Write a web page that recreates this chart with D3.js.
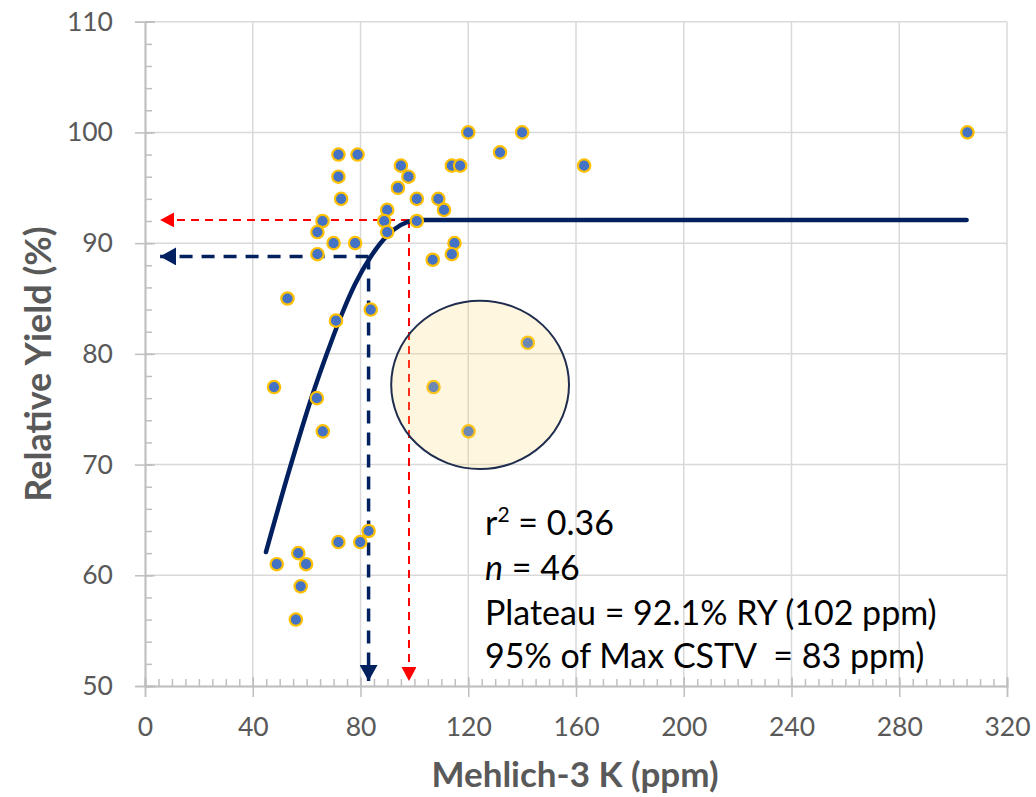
<!DOCTYPE html>
<html>
<head>
<meta charset="utf-8">
<script src="https://cdn.jsdelivr.net/npm/d3@7"></script>
<style>
	body { margin: 0; background: #fff; }
	text { font-family: Lato, "Open Sans", sans-serif; }
</style>
</head>
<body>
<div id="chart"></div>
<script>
// soil test K vs relative yield

var kPpm = [305.3, 120, 140, 131.8, 163, 71.8, 78.9, 95, 97.8, 93.9, 71.8, 72.8, 100.9, 108.9, 111,
	89.9, 88.8, 89.9, 100.9, 65.9, 64, 70, 78, 64, 114.9, 113.9, 106.8, 113.9, 117,
	52.9, 70.9, 83.8, 47.9, 63.8, 66, 107.1, 142.1, 120.1,
	71.8, 79.9, 83, 48.9, 56.9, 59.8, 57.8, 56];
var relYield = [100, 100, 100, 98.2, 97, 98, 98, 97, 96, 95, 96, 94, 94, 94, 93,
	93, 92, 91, 92, 92, 91, 90, 90, 89, 90, 89, 88.5, 97, 97,
	85, 83, 84, 77, 76, 73, 77, 81, 73,
	63, 63, 64, 61, 62, 61, 59, 56];

// fitted quadratic-plateau line
var curveK = [44.9, 53.2, 61.9, 67.5, 73.1, 78, 83.6, 90, 95, 100, 102, 305];
var curveRY = [62.1, 69.2, 76.1, 80.0, 83.6, 86.3, 88.7, 90.7, 91.65, 92.07, 92.1, 92.1];

var xTicks = [0, 40, 80, 120, 160, 200, 240, 280, 320];
var yTicks = [50, 60, 70, 80, 90, 100, 110];

// guide arrows
var cstvK = 83, cstvRY = 88.8;
var plateauK = 98, plateauRY = 92.1;
var arrowTipK = 5.6, arrowTipRY = 50.45;

// highlighted group (ellipse centre and radii in data units)
var ringK = 124.4, ringRY = 77.2, ringRK = 33, ringRRY = 7.6;

var statLines = ["r", "n = 46", "Plateau = 92.1% RY (102 ppm)", "95% of Max CSTV\u00a0 = 83 ppm)"];

drawChart();

function drawChart() {
	var width = 1036,
		height = 797,
		left = 145,
		right = 1007,
		top = 21.7,
		bottom = 686;

	var x = d3.scaleLinear().domain([0, 320]).range([left, right]);
	var y = d3.scaleLinear().domain([50, 110]).range([bottom, top]);

	var svg = d3.select("#chart")
		.append("svg")
		.attr("width", width)
		.attr("height", height);

	var defs = svg.append("defs");
	function arrowMarker(id, color, w, l) {
		defs.append("marker")
			.attr("id", id)
			.attr("markerUnits", "userSpaceOnUse")
			.attr("viewBox", "0 0 " + l + " " + w)
			.attr("refX", l)
			.attr("refY", w / 2)
			.attr("markerWidth", l)
			.attr("markerHeight", w)
			.attr("orient", "auto")
			.append("path")
			.attr("d", "M0,0L" + l + "," + (w / 2) + "L0," + w + "Z")
			.attr("fill", color);
	}
	arrowMarker("arrowBlue", "#002060", 18, 16);
	arrowMarker("arrowRed", "#ff0000", 15, 14);

	// gridlines
	svg.append("g").selectAll("line")
		.data(xTicks.slice(1))
		.enter().append("line")
		.attr("x1", function(d) { return x(d); })
		.attr("x2", function(d) { return x(d); })
		.attr("y1", top)
		.attr("y2", bottom)
		.attr("stroke", "#d9d9d9")
		.attr("stroke-width", 1.5);
	svg.append("g").selectAll("line")
		.data(yTicks.slice(1))
		.enter().append("line")
		.attr("x1", left)
		.attr("x2", right)
		.attr("y1", function(d) { return y(d); })
		.attr("y2", function(d) { return y(d); })
		.attr("stroke", "#d9d9d9")
		.attr("stroke-width", 1.5);

	// minor ticks
	var xMinor = d3.range(0, 321, 5), yMinor = d3.range(50, 111, 2);
	svg.append("g")
		.attr("transform", "translate(0," + bottom + ")")
		.call(d3.axisTop(x).tickValues(xMinor).tickSize(7).tickFormat(""));
	svg.append("g")
		.attr("transform", "translate(" + left + ",0)")
		.call(d3.axisRight(y).tickValues(yMinor).tickSize(7).tickFormat(""));

	// major ticks + labels
	svg.append("g")
		.attr("transform", "translate(0," + bottom + ")")
		.call(d3.axisBottom(x).tickValues(xTicks).tickSize(11).tickPadding(20));
	svg.append("g")
		.attr("transform", "translate(0," + bottom + ")")
		.call(d3.axisTop(x).tickValues(xTicks).tickSize(9).tickFormat(""));
	svg.append("g")
		.attr("transform", "translate(" + left + ",0)")
		.call(d3.axisLeft(y).tickValues(yTicks).tickSize(10).tickPadding(22));
	svg.append("g")
		.attr("transform", "translate(" + left + ",0)")
		.call(d3.axisRight(y).tickValues(yTicks).tickSize(10).tickFormat(""));

	svg.selectAll(".domain").attr("stroke", "#bfbfbf").attr("stroke-width", 1.5);
	svg.selectAll(".tick line").attr("stroke", "#bfbfbf").attr("stroke-width", 1.5);
	svg.selectAll(".tick text")
		.attr("fill", "#595959")
		.attr("font-size", "26.5px")
		.attr("font-family", "Lato, 'Open Sans', sans-serif");

	// axis titles
	svg.append("text")
		.attr("x", 575)
		.attr("y", 787)
		.attr("text-anchor", "middle")
		.attr("font-size", "35px")
		.attr("font-weight", "bold")
		.attr("fill", "#595959")
		.text("Mehlich-3 K (ppm)");
	svg.append("text")
		.attr("transform", "translate(51,364) rotate(-90)")
		.attr("text-anchor", "middle")
		.attr("font-size", "36px")
		.attr("font-weight", "bold")
		.attr("fill", "#595959")
		.text("Relative Yield (%)");

	// guide arrows
	var guides = svg.append("g").attr("fill", "none");
	guides.append("line")
		.attr("x1", x(cstvK)).attr("y1", y(cstvRY))
		.attr("x2", x(arrowTipK)).attr("y2", y(cstvRY))
		.attr("stroke", "#002060").attr("stroke-width", 3.5)
		.attr("stroke-dasharray", "13,9")
		.attr("marker-end", "url(#arrowBlue)");
	guides.append("line")
		.attr("x1", x(cstvK)).attr("y1", y(cstvRY))
		.attr("x2", x(cstvK)).attr("y2", y(arrowTipRY))
		.attr("stroke", "#002060").attr("stroke-width", 3.5)
		.attr("stroke-dasharray", "13,9")
		.attr("marker-end", "url(#arrowBlue)");
	guides.append("line")
		.attr("x1", x(plateauK)).attr("y1", y(plateauRY))
		.attr("x2", x(arrowTipK)).attr("y2", y(plateauRY))
		.attr("stroke", "#ff0000").attr("stroke-width", 2)
		.attr("stroke-dasharray", "8,6")
		.attr("marker-end", "url(#arrowRed)");
	guides.append("line")
		.attr("x1", x(plateauK)).attr("y1", y(plateauRY))
		.attr("x2", x(plateauK)).attr("y2", y(arrowTipRY))
		.attr("stroke", "#ff0000").attr("stroke-width", 2)
		.attr("stroke-dasharray", "8,6")
		.attr("marker-end", "url(#arrowRed)");

	// fitted curve
	var line = d3.line()
		.x(function(d) { return x(d[0]); })
		.y(function(d) { return y(d[1]); })
		.curve(d3.curveMonotoneX);
	svg.append("path")
		.datum(d3.zip(curveK, curveRY))
		.attr("d", line)
		.attr("fill", "none")
		.attr("stroke", "#002060")
		.attr("stroke-width", 4.5)
		.attr("stroke-linecap", "round");

	// points
	svg.append("g").selectAll("circle")
		.data(d3.zip(kPpm, relYield))
		.enter().append("circle")
		.attr("cx", function(d) { return x(d[0]); })
		.attr("cy", function(d) { return y(d[1]); })
		.attr("r", 6.2)
		.attr("fill", "#4472c4")
		.attr("stroke", "#ffc000")
		.attr("stroke-width", 2.2);

	// highlight ring
	svg.append("ellipse")
		.attr("cx", x(ringK))
		.attr("cy", y(ringRY))
		.attr("rx", x(ringK + ringRK) - x(ringK))
		.attr("ry", y(ringRY - ringRRY) - y(ringRY))
		.attr("fill", "#ffd672")
		.attr("fill-opacity", 0.22)
		.attr("stroke", "#1f2d4e")
		.attr("stroke-width", 2);

	// stats text
	var stats = svg.append("g")
		.attr("font-size", "34px")
		.attr("fill", "#000");
	var baselines = [535, 580, 625, 668];
	var r2 = stats.append("text").attr("x", 485).attr("y", baselines[0]);
	r2.append("tspan").text(statLines[0]);
	r2.append("tspan").attr("font-size", "21px").attr("dy", -13).text("2");
	r2.append("tspan").attr("dy", 13).text(" = 0.36");
	var nLine = stats.append("text").attr("x", 485).attr("y", baselines[1]);
	nLine.append("tspan").attr("font-style", "italic").text("n");
	nLine.append("tspan").text(statLines[1].slice(1));
	stats.append("text").attr("x", 485).attr("y", baselines[2]).text(statLines[2]);
	stats.append("text").attr("x", 485).attr("y", baselines[3]).text(statLines[3]);
}
</script>
</body>
</html>
